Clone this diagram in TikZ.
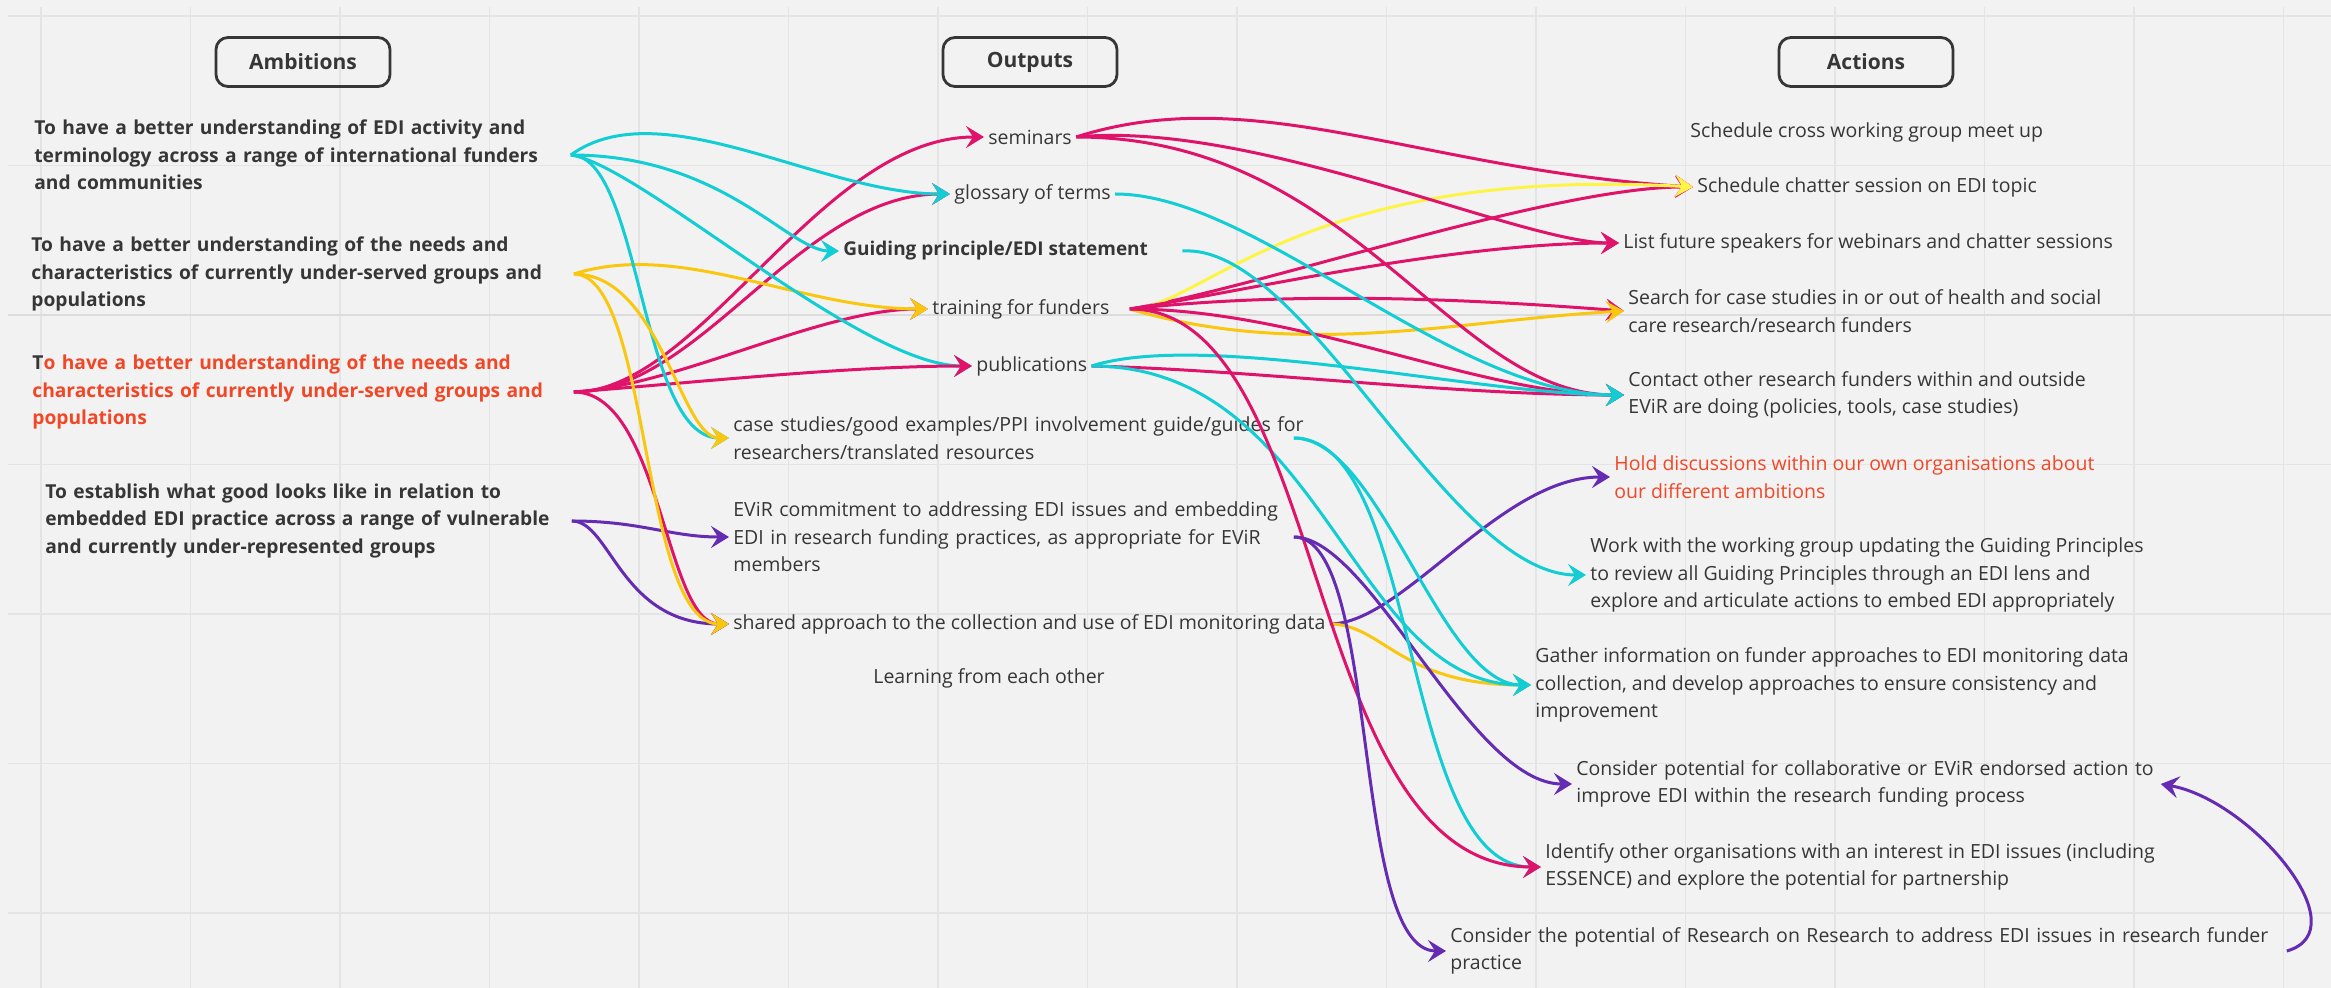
\documentclass[tikz,border=0pt]{standalone}
\usepackage{fontspec}
\setmainfont{Open Sans}
\usetikzlibrary{arrows.meta,positioning}
\definecolor{bg}{HTML}{F2F2F2}
\definecolor{gridc}{HTML}{E4E4E4}
\definecolor{gridd}{HTML}{DCDCDC}
\definecolor{txt}{HTML}{363636}
\definecolor{redt}{HTML}{F24726}
\definecolor{cyn}{HTML}{12CDD4}
\definecolor{mag}{HTML}{E0136B}
\definecolor{gld}{HTML}{FAC710}
\definecolor{ylw}{HTML}{FEF445}
\definecolor{prp}{HTML}{652CB3}

\begin{document}
\begin{tikzpicture}[x=0.5pt,y=-0.5pt]
% STYLES
\tikzset{
  hdr/.style={draw=txt, line width=1.4pt, rounded corners=6pt, minimum width=87pt,
    minimum height=24.5pt, inner sep=0pt, text=txt, font=\bfseries\fontsize{10.5}{12}\selectfont},
  amb/.style={anchor=west, align=left, inner sep=0pt, text=txt,
    font=\bfseries\fontsize{9.6}{13.75}\selectfont},
  outp/.style={anchor=west, align=left, inner sep=2pt, text=txt,
    font=\fontsize{9.75}{13.75}\selectfont},
  lnk/.style={line width=1.5pt, -{Stealth[length=9pt,width=11pt,inset=3.5pt]}}
}
\useasboundingbox (0,0) rectangle (2331,988);
\fill[bg] (0,0) rectangle (2331,988);
% grid
\foreach \i in {0,...,15}
  \draw[gridc, line width=0.8pt] ({41+149.5*\i},7) -- ({41+149.5*\i},988);
\foreach \j in {0,...,6}
  \draw[gridc, line width=0.8pt] (8,{16+149.5*\j}) -- (2331,{16+149.5*\j});
\draw[gridd, line width=1pt] (8,315) -- (2331,315);

% headers
\node[hdr] (hAmb) at (303,62) {Ambitions};
\node[hdr] (hOut) at (1030,62) {Outputs};
\node[hdr] (hAct) at (1866,62) {Actions};

% ambitions
\node[amb, text width=268pt] (amb1) at (34,155) {To have a better understanding of EDI activity and\\
  terminology across a range of international funders\\ and communities};
\node[amb, text width=271pt] (amb2) at (31,274) {To have a better understanding of the needs and\\
  characteristics of currently under-served groups and\\ populations};
\node[amb, text width=270.5pt, text=redt] (amb3) at (32,392) {\textcolor{txt}{T}o have a better understanding of the needs and\\
  characteristics of currently under-served groups and\\ populations};
\node[amb, text width=263pt] (amb4) at (45,521) {To establish what good looks like in relation to\\
  embedded EDI practice across a range of vulnerable\\ and currently under-represented groups};

% outputs
\node[outp] (sem) at (984,137) {seminars};
\node[outp] (glo) at (950,194) {glossary of terms};
\node[outp, font=\bfseries\fontsize{9.5}{13.75}\selectfont] (gui) at (839,251) {Guiding principle/EDI statement};
\node[outp] (trn) at (928,309) {training for funders};
\node[outp] (pub) at (972,366) {publications};
\node[outp, text width=290pt] (case) at (729,438) {case studies/good examples/PPI involvement guide/guides for\\
  researchers/translated resources};
\node[outp, text width=290pt] (evir) at (729,537) {EViR commitment to addressing EDI issues and embedding\\
  EDI in research funding practices, as appropriate for EViR\\ members};
\node[outp] (shr) at (729,624) {shared approach to the collection and use of EDI monitoring data};
\node[outp] (lrn) at (869,678) {Learning from each other};

% actions
\node[outp] (cwg) at (1686,132) {Schedule cross working group meet up};
\node[outp] (chat) at (1693,187) {Schedule chatter session on EDI topic};
\node[outp] (spk) at (1619,243) {List future speakers for webinars and chatter sessions};
\node[outp] (srch) at (1624,311) {Search for case studies in or out of health and social\\
  care research/research funders};
\node[outp] (cont) at (1624,395) {Contact other research funders within and outside\\
  EViR are doing (policies, tools, case studies)};
\node[outp, text=redt] (hold) at (1610,477) {Hold discussions within our own organisations about\\
  our different ambitions};
\node[outp] (work) at (1586,575) {Work with the working group updating the Guiding Principles\\
  to review all Guiding Principles through an EDI lens and\\
  explore and articulate actions to embed EDI appropriately};
\node[outp] (gath) at (1531,685) {Gather information on funder approaches to EDI monitoring data\\
  collection, and develop approaches to ensure consistency and\\ improvement};
\node[outp, text width=290pt] (colb) at (1572,784) {Consider potential for collaborative or EViR endorsed action to\\
  improve EDI within the research funding process};
\node[outp] (iden) at (1541,867) {Identify other organisations with an interest in EDI issues (including\\
  ESSENCE) and explore the potential for partnership};
\node[outp, text width=416pt] (rsr) at (1446,951) {Consider the potential of Research on Research to address EDI issues in research funder\\
  practice};

% Draw the links: ambitions to outputs
\draw[lnk, mag] (amb3.east) .. controls +(127,0) and +(-164,0) .. (sem.west);
\draw[lnk, mag] (amb3.east) .. controls +(127,0) and +(-150,0) .. (glo.west);
\draw[lnk, cyn] (amb1.east) .. controls +(90,-65) and +(-130,0) .. (glo.west);
\draw[lnk, cyn] (amb1.east) .. controls +(152,0) and +(-50,0) .. (gui.west);
\draw[lnk, mag] (amb3.east) .. controls +(107,-7) and +(-108,0) .. (trn.west);
\draw[lnk, gld] (amb2.east) .. controls +(107,-34) and +(-128,0) .. (trn.west);
\draw[lnk, cyn] (amb1.east) .. controls +(70,10) and +(-112,0) .. (pub.west);
\draw[lnk, mag] (amb3.east) .. controls +(127,-10) and +(-122,0) .. (pub.west);
\draw[lnk, cyn] (amb1.east) .. controls +(70,0) and +(-89,0) .. (case.west);
\draw[lnk, gld] (amb2.east) .. controls +(87,0) and +(-49,0) .. (case.west);
\draw[lnk, prp] (amb4.east) .. controls +(69,0) and +(-59,0) .. (evir.west);
\draw[lnk, mag] (amb3.east) .. controls +(87,0) and +(-64,0) .. (shr.west);
\draw[lnk, prp] (amb4.east) .. controls +(39,0) and +(-109,0) .. (shr.west);
\draw[lnk, gld] (amb2.east) .. controls +(77,0) and +(-89,0) .. (shr.west);

% outputs to actions
\draw[lnk, mag] (sem.east) .. controls +(178,-57) and +(-273,-17) .. (chat.west);
\draw[lnk, mag] ([xshift=8pt]trn.east) .. controls +(122,-19) and +(-143,0) .. (chat.west);
\draw[lnk, ylw] ([xshift=8pt]trn.east) .. controls +(72,0) and +(-393,-22) .. (chat.west);
\draw[lnk, mag] (sem.east) .. controls +(178,-17) and +(-99,0) .. (spk.west);
\draw[lnk, mag] ([xshift=8pt]trn.east) .. controls +(122,-19) and +(-169,0) .. (spk.west);
\draw[lnk, mag] ([xshift=8pt]trn.east) .. controls +(172,-19) and +(-144,-11) .. (srch.west);
\draw[lnk, gld] ([xshift=8pt]trn.east) .. controls +(172,51) and +(-164,9) .. (srch.west);
\draw[lnk, mag] (sem.east) .. controls +(278,0) and +(-174,0) .. (cont.west);
\draw[lnk, mag] ([xshift=8pt]trn.east) .. controls +(172,0) and +(-144,0) .. (cont.west);
\draw[lnk, mag] (pub.east) .. controls +(164,4) and +(-174,0) .. (cont.west);
\draw[lnk, cyn] (glo.east) .. controls +(142,0) and +(-174,0) .. (cont.west);
\draw[lnk, cyn] (pub.east) .. controls +(114,-36) and +(-144,0) .. (cont.west);
\draw[lnk, prp] (shr.east) .. controls +(73,0) and +(-110,0) .. (hold.west);
\draw[lnk, cyn] ([xshift=15pt]gui.east) .. controls +(124,-8) and +(-139,0) .. (work.west);
\draw[lnk, gld] (shr.east) .. controls +(53,0) and +(-131,0) .. (gath.west);
\draw[lnk, cyn] (pub.east) .. controls +(234,0) and +(-181,0) .. (gath.west);
\draw[lnk, cyn] ([xshift=-12pt]case.east) .. controls +(87,0) and +(-91,0) .. (gath.west);
\draw[lnk, prp] ([xshift=-12pt]evir.east) .. controls +(77,0) and +(-102,0) .. (colb.west);
\draw[lnk, cyn] ([xshift=-12pt]case.east) .. controls +(127,0) and +(-141,0) .. (iden.west);
\draw[lnk, mag] ([xshift=8pt]trn.east) .. controls +(202,0) and +(-241,0) .. (iden.west);
\draw[lnk, prp] ([xshift=-12pt]evir.east) .. controls +(87,0) and +(-96,0) .. (rsr.west);
\draw[lnk, prp] (rsr.east) .. controls +(74,-21) and +(90,16) .. (colb.east);
\end{tikzpicture}
\end{document}
